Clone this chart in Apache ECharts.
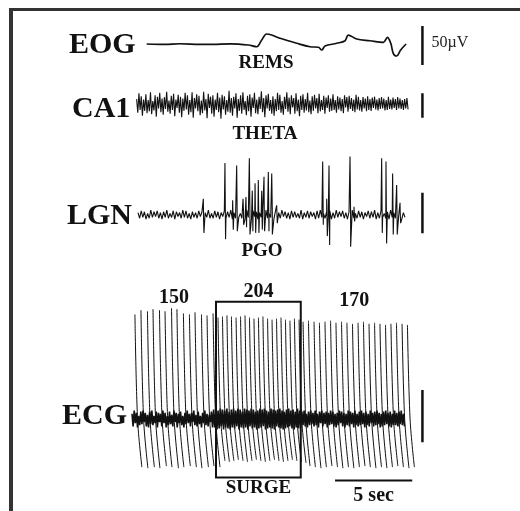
<!DOCTYPE html>
<html>
<head>
<meta charset="utf-8">
<script src="https://cdn.jsdelivr.net/npm/echarts@6/dist/echarts.min.js"></script>
<style>
html, body { margin: 0; padding: 0; background: #fff; }
#chart { width: 520px; height: 511px; }
</style>
</head>
<body>
<div id="chart"></div>
<script>
// ---- recorded traces (time in s, amplitude in µV) ----

// EOG: slow eye movements during REM sleep
const eogTime = [0.95, 2.10, 3.11, 4.40, 5.27, 6.40, 7.53, 8.08, 8.40, 8.72, 9.05, 9.59, 10.67, 11.53, 12.07, 12.29, 12.50, 13.26, 13.80, 14.01, 14.55, 15.41, 16.28, 16.54, 16.76, 16.92, 17.14, 17.40, 17.75];
const eogUv   = [0, -0.6, 0.3, -0.5, -0.4, 0.2, -1.3, -3.5, 5.1, 12.8, 11.5, 7.3, 0.9, -3.5, -4.2, -7.7, -2.6, 0.9, 4.2, 11.5, 6.4, 4.2, 2.2, 8.6, 0.9, -11.9, -15.4, -7.7, 0];

// CA1: hippocampal theta, evenly sampled between caStart and caEnd
const caStart = 0.30, caEnd = 17.88;
const caUv = [
  10,-18,22,-12,16,-24,9,-14,20,-19,8,-15,24,-21,6,-13,18,-26,15,-9,23,-17,11,-22,14,-10,25,-16,7,-20,
  17,-12,21,-25,9,-8,19,-18,15,-27,11,-14,23,-11,18,-22,8,-17,24,-28,12,-9,20,-15,17,-23,7,-19,25,-13,
  10,-29,21,-8,15,-20,18,-26,9,-12,23,-17,13,-30,19,-11,16,-22,8,-16,27,-18,12,-24,15,-9,22,-28,10,-14,
  18,-20,24,-12,6,-23,17,-15,20,-26,13,-8,23,-19,9,-21,15,-10,26,-17,12,-27,18,-9,21,-14,8,-20,16,-24,
  10,-15,23,-12,19,-18,6,-22,15,-10,24,-16,13,-21,18,-7,12,-20,22,-15,9,-25,17,-12,20,-18,10,-13,23,-17,
  7,-21,16,-14,19,-9,12,-19,21,-15,8,-12,17,-20,13,-8,18,-16,11,-14,20,-12,8,-18,16,-11,13,-15,10,-19,
  18,-7,14,-16,17,-10,12,-14,9,-17,19,-11,15,-13,8,-16,14,-9,11,-15,16,-12,10,-14,13,-8,15,-11,9,-13,
  12,-10,14,-9,11,-13,8,-12,15,-10,9,-11,13,-8,10,-12,14,-9,11,-10,8,-12,10,-9,12,-11];

// LGN: background activity plus PGO waves
const lgnStart = 0.39, lgnEnd = 17.68;
const lgnUv = [3,-4,5,-3,4,-5,2,-4,6,-3,4,-2,5,-4,3,-5,4,-3,6,-4,2,-3,5,-5,4,-2,3,-4,6,-3,5,-4,2,-5,4,-3,3,-4,5,-2,4,-5,3,-3,6,-4,2,-4,5,-3,4,-5,3,-2,5,-4,4,-3,6,-5,3,-4,5,-3,2,-4,4,-5,6,-3,3,-4,5,-2,4,-5,3,-3,5,-4,6,-4,2,-3,4,-5,5,-3,3,-4,6,-2,4,-4,3,-5,5,-3,4,-3,2,-4,6,-5,3,-3,5,-4,4,-2,3,-5,5,-4,6,-3,2,-4,4,-3,5,-5,3,-4,6,-3,4,-2,5,-4,3,-5,4,-3,6,-4,2,-4,5,-3,4,-5,3,-2,5,-4,4,-3,6,-5,3,-4,5,-3,2,-4,4,-5,6,-3,3,-4,5,-2,4,-5,3,-3];
const pgoTime = [4.62, 6.02, 6.52, 6.78, 7.19, 7.38, 7.60, 7.79, 7.97, 8.18, 8.40, 8.55, 8.83, 9.05, 9.37, 12.35, 12.61, 12.76, 14.12, 14.38, 16.17, 16.45, 16.88, 17.14, 17.36];
const pgoUp   = [20, 64, 18, 61, 20, 22, 70, 30, 39, 43, 30, 47, 53, 51, 12, 66, 20, 61, 72, 10, 70, 66, 51, 37, 15];
const pgoDown = [-22, -30, -18, -20, -12, -15, -24, -20, -22, -22, -18, -20, -20, -24, -10, -12, -26, -37, -39, -8, -22, -35, -24, -24, -10];

// ECG: R-wave times and peak/trough amplitudes
const beatTime = [0.19, 0.58, 1.00, 1.36, 1.78, 2.14, 2.56, 2.91, 3.33, 3.72, 4.08, 4.50, 4.86, 5.25,
                  5.57, 5.86, 6.15, 6.44, 6.74, 7.03, 7.32, 7.61, 7.90, 8.19, 8.48, 8.78, 9.07, 9.36, 9.65, 9.94, 10.23, 10.52, 10.82,
                  11.08, 11.43, 11.79, 12.14, 12.50, 12.86, 13.21, 13.57, 13.92, 14.28, 14.64, 14.99, 15.35, 15.71, 16.06, 16.42, 16.77, 17.13, 17.49, 17.84];
const beatPeak = [100, 104, 103, 105, 104, 103, 106, 105, 101, 100, 102, 100, 99, 101,
                  97, 98, 99, 98, 97, 98, 99, 97, 96, 97, 98, 96, 95, 96, 97, 95, 94, 96, 95,
                  93, 94, 93, 92, 93, 94, 92, 93, 92, 91, 92, 93, 91, 92, 91, 90, 91, 92, 91, 90];
const beatTrough = [-46, -47, -46, -47, -45, -46, -47, -46, -45, -46, -47, -46, -45, -46,
                    -40, -41, -40, -39, -40, -41, -40, -39, -40, -41, -40, -39, -40, -41, -40, -39, -40, -41, -42,
                    -45, -46, -47, -46, -45, -46, -47, -46, -47, -46, -45, -46, -47, -46, -47, -46, -45, -46, -47, -46];
const ecgStart = 0.00, ecgEnd = 17.65;
const ecgNoiseUv = [
  5,-7,8,-4,6,-8,3,-6,7,-5,8,-3,6,-7,4,-8,7,-5,8,-6,3,-4,7,-8,6,-3,5,-7,8,-4,6,-8,3,-6,7,-5,4,-7,8,-3,6,-8,5,-4,7,-6,3,-8,6,-5,8,-4,5,-7,6,-3,8,-6,4,-7,7,-5,3,-8,6,-4,8,-6,5,-7,4,-3,7,-8,
  9,-8,7,-10,8,-9,10,-7,9,-10,8,-8,10,-9,7,-10,9,-8,10,-9,8,-7,10,-10,9,-8,7,-9,10,-8,9,-10,8,-7,10,-9,9,-8,7,-10,8,-9,10,-8,9,-7,10,-10,8,-9,7,-8,10,-9,9,-10,8,-7,9,-8,10,-9,8,-10,7,-9,9,-8,10,-7,8,-9,9,-10,7,-8,10,-9,8,-8,
  7,-6,8,-7,5,-8,7,-6,8,-5,6,-7,8,-6,5,-8,7,-4,8,-7,6,-5,7,-8,6,-6,8,-5,7,-7,5,-8,6,-6,8,-4,7,-7,6,-8,5,-6,8,-7,7,-5,6,-8,8,-6,5,-7,7,-6,8,-5,6,-8,7,-6,5,-7,8,-4,6,-7,7,-6,8,-5,6,-8,5,-7,7,-6,8,-5,6,-7,7,-8,5,-6,8,-6,6,-7,7,-5,8,-6,5,-7];

// heart rate (beats/min) before, during and after the surge
const rateBounds = [0, 5.44, 10.93, 17.85];
const rates = [150, 204, 170];
const surgeStart = 5.44, surgeEnd = 10.93;
const timeBarSec = 5;
const calUv = 50;

// ---- layout ----
const PX_PER_SEC = 15.44;
const T_MAX = 20;
const GRID_LEFT = 132;
const SERIF = "'Liberation Serif', 'DejaVu Serif', serif";
const INK = '#111';

const channels = [
  { key: 'EOG', baseline: 44,  pxPerUv: 0.78,  top: 10,  bottom: 82,  calLow: -27 },
  { key: 'CA1', baseline: 104, pxPerUv: 0.488, top: 84,  bottom: 128, calLow: -28 },
  { key: 'LGN', baseline: 215, pxPerUv: 0.812, top: 145, bottom: 255, calLow: -22.5 },
  { key: 'ECG', baseline: 419, pxPerUv: 1.046, top: 280, bottom: 508, calLow: -22.3 }
];
const CAL_T = 18.81;

const grids = [], xAxes = [], yAxes = [];
channels.forEach((c, i) => {
  grids.push({ left: GRID_LEFT, width: T_MAX * PX_PER_SEC, top: c.top, height: c.bottom - c.top });
  xAxes.push({ type: 'value', gridIndex: i, min: 0, max: T_MAX, show: false });
  yAxes.push({ type: 'value', gridIndex: i, show: false,
    min: -(c.bottom - c.baseline) / c.pxPerUv, max: (c.baseline - c.top) / c.pxPerUv });
});

function even(start, end, vals) {
  const n = vals.length;
  return vals.map((v, i) => [start + (end - start) * i / (n - 1), v]);
}

const eogData = eogTime.map((t, i) => [t, eogUv[i]]);
const caData = even(caStart, caEnd, caUv);

const lgnData = even(lgnStart, lgnEnd, lgnUv);
pgoTime.forEach((t, i) => {
  lgnData.push([t, pgoUp[i]]);
  lgnData.push([t + 0.04, pgoDown[i]]);
});
lgnData.sort((a, b) => a[0] - b[0]);

// each beat is drawn as one pen stroke: peak -> baseline -> trough
const beatData = [];
beatTime.forEach((t, i) => {
  beatData.push([t, beatPeak[i]]);
  beatData.push([t + 0.17, 0]);
  beatData.push([t + 0.45, beatTrough[i]]);
  beatData.push([t + 0.45, null]);
});
const ecgNoise = even(ecgStart, ecgEnd, ecgNoiseUv);

const traceBase = { type: 'line', symbol: 'none', silent: true, animation: false };
const textLabel = (extra) => Object.assign({ show: true, fontFamily: SERIF, color: INK }, extra);

const series = [
  Object.assign({}, traceBase, { xAxisIndex: 0, yAxisIndex: 0, data: eogData, smooth: 0.35,
    lineStyle: { color: INK, width: 1.7 } }),
  Object.assign({}, traceBase, { xAxisIndex: 1, yAxisIndex: 1, data: caData,
    lineStyle: { color: INK, width: 1.1 } }),
  Object.assign({}, traceBase, { xAxisIndex: 2, yAxisIndex: 2, data: lgnData,
    lineStyle: { color: INK, width: 1.1 } }),
  Object.assign({}, traceBase, { xAxisIndex: 3, yAxisIndex: 3, data: beatData, smooth: 0.35, connectNulls: false,
    lineStyle: { color: INK, width: 1 },
    markArea: { silent: true,
      itemStyle: { color: 'rgba(0,0,0,0)', borderColor: INK, borderWidth: 2 },
      label: textLabel({ position: 'bottom', distance: 0, formatter: 'SURGE', fontWeight: 'bold', fontSize: 19 }),
      data: [[{ xAxis: surgeStart, yAxis: 112 }, { xAxis: surgeEnd, yAxis: -56 }]] } }),
  Object.assign({}, traceBase, { xAxisIndex: 3, yAxisIndex: 3, data: ecgNoise,
    lineStyle: { color: INK, width: 1.6 } })
];

// calibration bars
channels.forEach((c, i) => {
  series.push(Object.assign({}, traceBase, { xAxisIndex: i, yAxisIndex: i,
    lineStyle: { color: INK, width: 2.5 },
    data: [[CAL_T, c.calLow], [CAL_T, c.calLow + calUv]] }));
});

// time scale bar
const tbEnd = 18.15, tbY = -58.7;
series.push(Object.assign({}, traceBase, { xAxisIndex: 3, yAxisIndex: 3,
  lineStyle: { color: INK, width: 2 },
  data: [[tbEnd - timeBarSec, tbY], [tbEnd, tbY]] }));

// text placed in data coordinates
const labelDot = { type: 'scatter', symbolSize: 0, silent: true, animation: false, itemStyle: { opacity: 1 } };
series.push(Object.assign({}, labelDot, { xAxisIndex: 0, yAxisIndex: 0,
  label: textLabel({ position: [9, -9], fontSize: 16, color: '#222', formatter: calUv + 'µV' }),
  data: [[CAL_T, channels[0].calLow + calUv / 2 + 2]] }));
series.push(Object.assign({}, labelDot, { xAxisIndex: 3, yAxisIndex: 3,
  label: textLabel({ position: [0, 5], align: 'center', fontWeight: 'bold', fontSize: 20, formatter: timeBarSec + ' sec' }),
  data: [[tbEnd - timeBarSec / 2, tbY]] }));

// heart-rate labels
const rateLabelUv = [116, 122, 113];
series.push(Object.assign({}, labelDot, { xAxisIndex: 3, yAxisIndex: 3,
  label: textLabel({ position: [0, 0], align: 'center', verticalAlign: 'middle', fontWeight: 'bold', fontSize: 20,
    formatter: p => String(p.data.rate) }),
  data: rates.map((r, i) => ({ value: [(rateBounds[i] + rateBounds[i + 1]) / 2, rateLabelUv[i]], rate: r })) }));

const nameStyle = { fontFamily: SERIF, fontWeight: 'bold', fontSize: 30, fill: INK };
const tagStyle = { fontFamily: SERIF, fontWeight: 'bold', fontSize: 19, fill: INK };
function txt(text, x, y, style, align) {
  return { type: 'text', x: x, y: y, style: Object.assign({ text: text, textAlign: align || 'left', textVerticalAlign: 'middle' }, style) };
}

const chart = echarts.init(document.getElementById('chart'), null, { renderer: 'canvas' });
chart.setOption({
  backgroundColor: '#fff',
  animation: false,
  grid: grids, xAxis: xAxes, yAxis: yAxes,
  series: series,
  graphic: [
    { type: 'rect', shape: { x: 9, y: 8, width: 4, height: 503 }, style: { fill: '#333' } },
    { type: 'rect', shape: { x: 9, y: 8, width: 511, height: 3 }, style: { fill: '#333' } },
    txt('EOG', 69, 45, nameStyle),
    txt('CA1', 72, 109, nameStyle),
    txt('LGN', 67, 216, nameStyle),
    txt('ECG', 62, 416, nameStyle),
    txt('REMS', 266, 63, tagStyle, 'center'),
    txt('THETA', 265, 134, tagStyle, 'center'),
    txt('PGO', 262, 251, tagStyle, 'center')
  ]
});
</script>
</body>
</html>
